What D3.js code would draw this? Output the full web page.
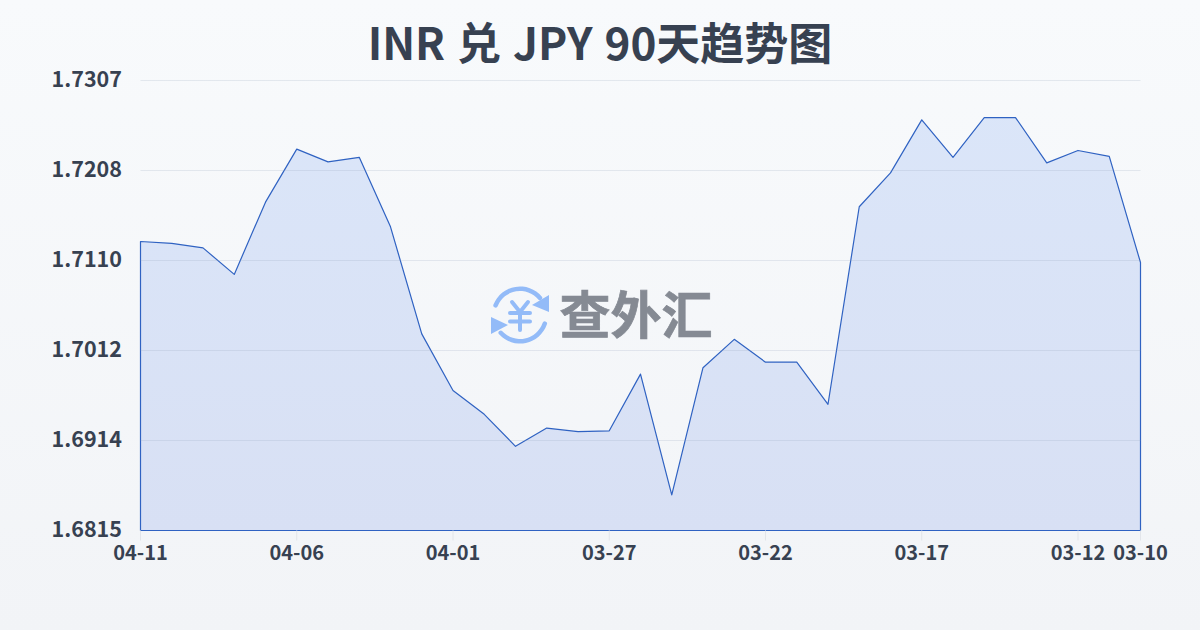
<!DOCTYPE html>
<html>
<head>
<meta charset="utf-8">
<script src="https://cdn.jsdelivr.net/npm/d3@7"></script>
<style>
  html, body { margin: 0; padding: 0; width: 1200px; height: 630px; overflow: hidden; }
  text { font-family: "Noto Sans CJK SC", sans-serif; }
</style>
</head>
<body>
<div id="chart"></div>
<script>
// Dates run newest to oldest, left to right, as in the source chart
const dates = ["04-11","04-10","04-09","04-08","04-07","04-06","04-05","04-04","04-03","04-02","04-01",
  "03-31","03-30","03-29","03-28","03-27","03-26","03-25","03-24","03-23","03-22","03-21","03-20",
  "03-19","03-18","03-17","03-16","03-15","03-14","03-13","03-12","03-11","03-10"];
const rates = [1.7131,1.7129,1.7124,1.7095,1.7174,1.7232,1.7218,1.7223,1.7147,1.7030,1.6968,
  1.6942,1.6907,1.6927,1.6923,1.6924,1.6986,1.6854,1.6993,1.7024,1.6999,1.6999,1.6953,
  1.7169,1.7206,1.7264,1.7223,1.72665,1.72665,1.7217,1.72305,1.7224,1.7108];
const yTicks = [1.7307,1.7208,1.7110,1.7012,1.6914,1.6815];
const xTickLabels = ["04-11","04-06","04-01","03-27","03-22","03-17","03-12","03-10"];

const width = 1200, height = 630;
const plotLeft = 140.5, plotRight = 1140.5, plotTop = 80.5, plotBottom = 530.5;

const svg = d3.select("#chart").append("svg")
  .attr("width", width)
  .attr("height", height)
  .style("display", "block");

const defs = svg.append("defs");

const bgGradient = defs.append("linearGradient")
  .attr("id", "bgGradient")
  .attr("x1", "0%").attr("x2", "0%").attr("y1", "0%").attr("y2", "100%");
bgGradient.append("stop").attr("offset", "0%").attr("stop-color", "#f8fafc");
bgGradient.append("stop").attr("offset", "100%").attr("stop-color", "#f2f4f7");

const areaGradient = defs.append("linearGradient")
  .attr("id", "areaGradient")
  .attr("gradientUnits", "userSpaceOnUse")
  .attr("x1", 0).attr("x2", 0).attr("y1", plotTop).attr("y2", plotBottom);
areaGradient.append("stop").attr("offset", "0%").attr("stop-color", "#dbe6f9");
areaGradient.append("stop").attr("offset", "100%").attr("stop-color", "#d8e0f4");

svg.append("rect")
  .attr("width", width)
  .attr("height", height)
  .attr("fill", "url(#bgGradient)");

const x = d3.scalePoint().domain(dates).range([plotLeft, plotRight]);
const y = d3.scaleLinear().domain([yTicks[yTicks.length - 1], yTicks[0]]).range([plotBottom, plotTop]);
// The rounded tick labels are evenly spaced on the axis
const yTickPos = d3.scalePoint().domain(yTicks).range([plotTop, plotBottom]);

// Title
svg.append("text")
  .attr("x", 600)
  .attr("y", 60)
  .attr("text-anchor", "middle")
  .attr("font-size", 44)
  .attr("font-weight", 700)
  .attr("word-spacing", 2)
  .attr("fill", "#374151")
  .text("INR 兑 JPY 90天趋势图");

// Area with the outline running down both sides and along the base
const area = d3.area()
  .x((d, i) => x(dates[i]))
  .y0(plotBottom)
  .y1(d => y(d));

svg.append("path")
  .datum(rates)
  .attr("d", area)
  .attr("fill", "url(#areaGradient)")
  .attr("stroke", "#2f62c2")
  .attr("stroke-width", 1.2)
  .attr("stroke-linejoin", "round");

// Gridlines sit over the fill, faintly
svg.append("g").selectAll("line")
  .data(yTicks.slice(0, -1))
  .enter().append("line")
  .attr("x1", plotLeft)
  .attr("x2", plotRight)
  .attr("y1", d => yTickPos(d))
  .attr("y2", d => yTickPos(d))
  .attr("stroke", "#8fa0b8")
  .attr("stroke-opacity", 0.2)
  .attr("stroke-width", 1);

// Y labels
svg.append("g").selectAll("text")
  .data(yTicks)
  .enter().append("text")
  .attr("x", 122)
  .attr("y", d => yTickPos(d) + 6)
  .attr("text-anchor", "end")
  .attr("font-size", 21.5)
  .attr("font-weight", 700)
  .attr("fill", "#374151")
  .text(d => d.toFixed(4));

// X ticks and labels
const xAxis = svg.append("g").selectAll("g")
  .data(xTickLabels)
  .enter().append("g")
  .attr("transform", d => `translate(${x(d)},0)`);

xAxis.append("line")
  .attr("y1", plotBottom)
  .attr("y2", plotBottom + 10)
  .attr("stroke", "#e2e5ea");

xAxis.append("text")
  .attr("y", 560)
  .attr("text-anchor", "middle")
  .attr("font-size", 20)
  .attr("font-weight", 700)
  .attr("fill", "#374151")
  .text(d => d);

// Watermark logo
const logoBlue = "#93bbf8";
const logo = svg.append("g").attr("transform", "translate(520,315)");
const arcGen = d3.arc().innerRadius(24).outerRadius(28.5).cornerRadius(2.2);
logo.append("path")
  .attr("d", arcGen({ startAngle: -1.28, endAngle: 0.95 }))
  .attr("fill", logoBlue);
logo.append("path")
  .attr("d", arcGen({ startAngle: 1.82, endAngle: 4.05 }))
  .attr("fill", logoBlue);
logo.append("path").attr("d", "M29,-20 L29,-3 L12,-10 Z").attr("fill", logoBlue);
logo.append("path").attr("d", "M-29,2 L-29,19 L-12,10 Z").attr("fill", logoBlue);
logo.append("path")
  .attr("d", "M-8,-13 L0,-3 L8,-13 M-10,-2 H10 M-10,6.5 H10 M0,-3 V15")
  .attr("fill", "none")
  .attr("stroke", logoBlue)
  .attr("stroke-width", 4)
  .attr("stroke-linecap", "round")
  .attr("stroke-linejoin", "round");

svg.append("text")
  .attr("x", 636)
  .attr("y", 334)
  .attr("text-anchor", "middle")
  .attr("font-size", 51)
  .attr("font-weight", 700)
  .attr("fill", "#858a93")
  .attr("stroke", "#858a93")
  .attr("stroke-width", 0.7)
  .text("查外汇");
</script>
</body>
</html>
